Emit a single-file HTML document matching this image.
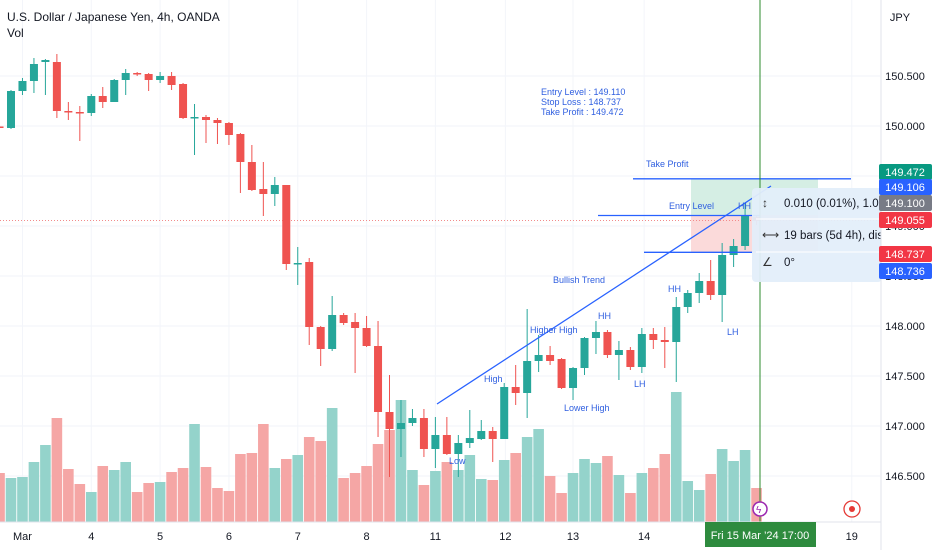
<!DOCTYPE html>
<html><head><meta charset="utf-8"><style>
html,body{margin:0;padding:0;background:#fff;overflow:hidden}
svg{display:block;font-family:"Liberation Sans",sans-serif}
</style></head><body>
<svg id="c" width="932" height="550" viewBox="0 0 932 550">
<rect x="0" y="0" width="932" height="550" fill="#fff"/>
<g id="grid"></g>
<g id="vol"></g>
<g id="zones"></g>
<g id="candles"></g>
<g id="draw"></g>
<g id="axis"></g>
</svg>
<script>
const NS="http://www.w3.org/2000/svg";
// Data (index -1 .. 65)
const opens=[149.995,149.98,150.35,150.45,150.64,150.64,150.15,150.14,150.13,150.30,150.24,150.46,150.53,150.52,150.46,150.50,150.42,150.085,150.09,150.06,150.03,149.92,149.64,149.37,149.32,149.41,148.625,148.64,147.99,147.77,148.11,148.04,147.98,147.80,147.14,146.97,147.03,147.08,146.77,146.91,146.72,146.83,146.87,146.95,146.87,147.39,147.33,147.65,147.71,147.67,147.38,147.58,147.88,147.94,147.71,147.76,147.59,147.92,147.86,147.84,148.19,148.33,148.45,148.31,148.71,148.80,149.09];
const highs=[150.00,150.36,150.48,150.68,150.67,150.72,150.24,150.20,150.32,150.39,150.47,150.57,150.54,150.53,150.54,150.54,150.43,150.22,150.11,150.08,150.04,149.93,149.81,149.64,149.49,149.41,148.79,148.68,148.00,148.30,148.13,148.13,148.10,148.05,147.51,147.26,147.17,147.17,147.09,147.09,146.91,147.16,147.06,146.99,147.43,147.61,148.17,147.91,147.80,147.68,147.59,147.89,148.05,147.96,147.85,147.79,147.98,147.98,147.99,148.29,148.36,148.53,148.66,148.83,148.87,149.23,149.11];
const lows=[149.98,149.97,150.31,150.33,150.31,150.08,150.06,149.85,150.10,150.18,150.24,150.31,150.50,150.35,150.43,150.36,150.07,149.71,149.83,149.82,149.81,149.33,149.35,149.10,149.20,148.56,148.41,147.81,147.60,147.75,148.01,147.53,147.79,146.89,146.49,146.69,147.00,146.69,146.58,146.71,146.49,146.78,146.86,146.64,146.87,147.21,147.08,147.54,147.61,147.37,147.26,147.51,147.72,147.68,147.46,147.56,147.53,147.77,147.58,147.44,148.13,148.23,148.26,148.04,148.59,148.76,149.01];
const closes=[149.985,150.35,150.45,150.62,150.66,150.15,150.14,150.13,150.30,150.24,150.46,150.53,150.52,150.46,150.50,150.41,150.08,150.09,150.06,150.03,149.91,149.64,149.36,149.32,149.41,148.62,148.63,147.99,147.77,148.11,148.03,147.98,147.80,147.14,146.97,147.03,147.08,146.77,146.91,146.72,146.83,146.88,146.95,146.87,147.39,147.33,147.65,147.71,147.65,147.38,147.58,147.88,147.94,147.71,147.76,147.59,147.92,147.86,147.84,148.19,148.33,148.45,148.31,148.71,148.80,149.10,149.05];
const volumes=[49,44,45,60,77,104,53,38,30,56,52,60,30,39,40,50,54,98,55,34,31,68,69,98,54,63,67,85,81,114,44,49,56,78,92,122,52,37,51,60,52,67,43,42,62,69,85,93,46,29,49,63,59,66,47,29,49,54,68,130,41,32,48,73,61,72,34];
const dayLabels=["Mar","4","5","6","7","8","11","12","13","14","19"];
const dayIdx=[1,7,13,19,25,31,37,43.1,49,55.2,73.3];
const priceTicks=[150.5,150.0,149.5,149.0,148.5,148.0,147.5,147.0,146.5];
const entryLevel=149.110, stopLoss=148.737, takeProfit=149.472, lastPrice=149.055;

const x=i=>11+(i)*11.47;
const y=p=>76+(150.5-p)*100;
const vy=v=>522-v;
function el(t,a,parent,txt){const e=document.createElementNS(NS,t);for(const k in a)e.setAttribute(k,a[k]);if(txt!==undefined)e.textContent=txt;document.getElementById(parent).appendChild(e);return e;}

// grid
priceTicks.forEach(p=>{const g=el('line',{x1:0,x2:880,y1:y(p),y2:y(p),stroke:'#f0f3fa','stroke-width':1},'grid');

});
dayIdx.forEach(d=>{const g=el('line',{x1:x(d),x2:x(d),y1:0,y2:522,stroke:'#f3f5fa','stroke-width':1},'grid');

});

// volume
volumes.forEach((v,k)=>{const i=k-1;const up=closes[k]>=opens[k];
const r=el('rect',{x:x(i)-5.3,y:vy(v),width:10.6,height:v,fill:up?'#94d3cb':'#f5a6a5'},'vol');

});

// position zones
let z=el('rect',{x:691,y:y(takeProfit),width:127,height:y(entryLevel)-y(takeProfit),fill:'#d5eee4'},'zones');

z=el('rect',{x:691,y:y(entryLevel),width:127,height:y(stopLoss)-y(entryLevel),fill:'#fbdada'},'zones');

z=el('line',{x1:0,x2:880,y1:y(lastPrice),y2:y(lastPrice),stroke:'#f28b8b','stroke-width':1,'stroke-dasharray':'1 2'},'zones');


// candles
opens.forEach((o,k)=>{const i=k-1;const c=closes[k];const up=c>=o;const col=up?'#26a69a':'#ef5350';
const w=el('line',{x1:x(i),x2:x(i),y1:y(highs[k]),y2:y(lows[k]),stroke:col,'stroke-width':1},'candles');


const top=y(Math.max(o,c));const h=Math.max(1.5,Math.abs(y(o)-y(c)));
const b=el('rect',{x:x(i)-4,y:top,width:8,height:h,fill:col},'candles');

});

// drawings
const blue='#2962ff';
function L(a,n){const e=el('line',Object.assign({stroke:blue,'stroke-width':1.3},a),'draw');return e;}
L({x1:437,y1:404,x2:771,y2:186},'trend-line');
L({x1:633,x2:851,y1:y(takeProfit),y2:y(takeProfit)},'take-profit-line');
L({x1:598,x2:760,y1:y(entryLevel)+0.5,y2:y(entryLevel)+0.5},'entry-level-line');
L({x1:644,x2:752,y1:y(stopLoss),y2:y(stopLoss)},'stop-loss-line');
const notes=[["Entry Level : 149.110",541,95],["Stop Loss : 148.737",541,105],["Take Profit : 149.472",541,115],["Take Profit",646,167],["Entry Level",669,209],["HH",738,209],["Bullish Trend",553,283],["HH",668,292],["HH",598,319],["Higher High",530,333],["High",484,382],["LH",727,335],["LH",634,387],["Lower High",564,411],["Low",449,464]];
notes.forEach(n=>{const t=el('text',{x:n[1],y:n[2],fill:'#2f5fe0','font-size':9},'draw',n[0]);

});
z=el('line',{x1:760,x2:760,y1:0,y2:522,stroke:'#2e8b2e','stroke-width':1},'draw');

// tooltip
const tt=el('rect',{x:752,y:188,width:130,height:94,rx:4,fill:'#e3eefa',opacity:0.95},'draw');

[["0.010 (0.01%), 1.0",207,"↕"],["19 bars (5d 4h), dista",239,"⟷"],["0°",266,"∠"]].forEach(r=>{
const t=el('text',{x:784,y:r[1],fill:'#131722','font-size':11.5},'draw',r[0]);

const ic=el('text',{x:762,y:r[1],fill:'#333','font-size':12},'draw',r[2]);
});
[[219],[252]].forEach(r=>{const l=el('line',{x1:756,x2:880,y1:r[0],y2:r[0],stroke:'#fff','stroke-width':1},'draw');
});
// icons
let ic=el('circle',{cx:760,cy:509,r:7,fill:'#fff',stroke:'#9c27b0','stroke-width':1.5},'draw');

ic=el('text',{x:756,y:513,fill:'#9c27b0','font-size':10},'draw','ϟ');

ic=el('circle',{cx:852,cy:509,r:8,fill:'#fff',stroke:'#e53935','stroke-width':1.3},'draw');

ic=el('circle',{cx:852,cy:509,r:3,fill:'#e53935'},'draw');


// axes
let a=el('rect',{x:881,y:0,width:51,height:550,fill:'#fff'},'axis');

a=el('line',{x1:881,x2:881,y1:0,y2:550,stroke:'#e0e3eb'},'axis');

a=el('line',{x1:0,x2:881,y1:522,y2:522,stroke:'#e0e3eb'},'axis');

priceTicks.forEach(p=>{const t=el('text',{x:905,y:y(p)+4,fill:'#131722','font-size':11,'text-anchor':'middle'},'axis',p.toFixed(3));
});
dayLabels.forEach((d,k)=>{const t=el('text',{x:x(dayIdx[k]),y:540,fill:'#131722','font-size':11,'text-anchor':'middle'},'axis',d);
});
// price tags
const tags=[["149.472",164,'#089981'],["149.106",179,'#2962ff'],["149.100",195,'#787b86'],["149.055",212,'#f23645'],["148.737",246,'#f23645'],["148.736",263,'#2962ff']];
tags.forEach(t=>{const r=el('rect',{x:879,y:t[1],width:53,height:16,rx:2,fill:t[2]},'axis');

const s=el('text',{x:905,y:t[1]+12,fill:'#fff','font-size':11,'text-anchor':'middle'},'axis',t[0]);
});
// time tag
a=el('rect',{x:705,y:522,width:111,height:25,fill:'#2e8b3e'},'axis');

a=el('text',{x:760,y:539,fill:'#fff','font-size':11,'text-anchor':'middle'},'axis','Fri 15 Mar \u201924   17:00');

// title
a=el('text',{x:7,y:21,fill:'#131722','font-size':12},'axis','U.S. Dollar / Japanese Yen, 4h, OANDA');

a=el('text',{x:7,y:37,fill:'#131722','font-size':12},'axis','Vol');

a=el('text',{x:900,y:21,fill:'#131722','font-size':11,'text-anchor':'middle'},'axis','JPY');

</script>
</body></html>
